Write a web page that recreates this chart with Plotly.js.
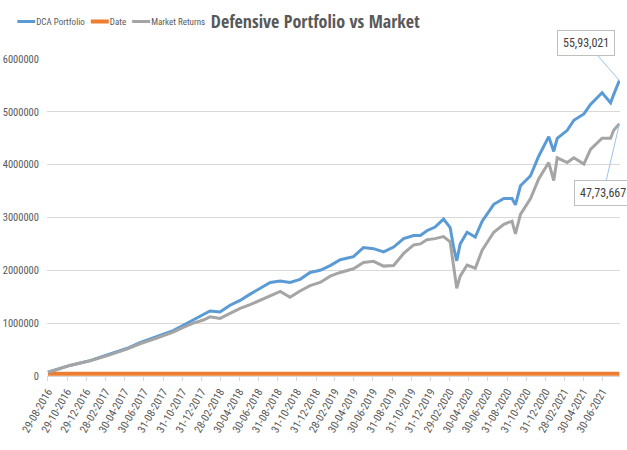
<!DOCTYPE html>
<html>
<head>
<meta charset="utf-8">
<script src="https://cdn.plot.ly/plotly-3.0.1.min.js"></script>
<style>html,body{margin:0;padding:0;background:#fff;}#chart{width:627px;height:450px;}</style>
</head>
<body>
<div id="chart"></div>
<script>
var dates = ['2016-08-29','2016-11-07','2017-01-10','2017-03-04','2017-05-07','2017-06-18','2017-08-11','2017-10-02','2017-11-03','2017-12-05','2018-01-06','2018-01-27','2018-02-28','2018-04-01','2018-05-03','2018-06-04','2018-08-07','2018-09-08','2018-10-09','2018-11-10','2018-12-12','2019-01-13','2019-02-14','2019-03-18','2019-04-29','2019-05-31','2019-07-02','2019-08-03','2019-09-04','2019-10-06','2019-11-07','2019-11-28','2019-12-19','2020-01-14','2020-02-10','2020-03-02','2020-03-13','2020-03-23','2020-04-03','2020-04-25','2020-05-21','2020-06-12','2020-07-19','2020-08-20','2020-09-15','2020-09-26','2020-10-12','2020-11-13','2020-12-09','2021-01-10','2021-01-26','2021-02-06','2021-03-10','2021-03-31','2021-05-02','2021-05-23','2021-06-29','2021-07-26','2021-08-05','2021-08-23'];
var dcaPortfolio = [70000,200000,290000,390000,520000,630000,740000,860000,960000,1060000,1150000,1230000,1210000,1340000,1430000,1550000,1770000,1800000,1770000,1830000,1960000,2000000,2090000,2200000,2260000,2430000,2410000,2350000,2440000,2600000,2660000,2660000,2750000,2820000,2970000,2810000,2440000,2180000,2500000,2720000,2630000,2930000,3250000,3360000,3360000,3240000,3600000,3790000,4160000,4530000,4250000,4500000,4650000,4840000,4960000,5140000,5360000,5170000,5330000,5593021];
var marketReturns = [70000,200000,290000,380000,510000,610000,720000,830000,920000,1000000,1060000,1120000,1090000,1180000,1280000,1350000,1520000,1600000,1490000,1610000,1710000,1770000,1890000,1960000,2030000,2150000,2170000,2080000,2090000,2320000,2480000,2500000,2580000,2600000,2640000,2540000,2080000,1660000,1890000,2100000,2040000,2380000,2720000,2870000,2930000,2690000,3060000,3360000,3730000,4040000,3700000,4130000,4040000,4130000,4010000,4290000,4500000,4500000,4650000,4773667];
// "Date" series (Excel date serials, plotted as values)
var dateSeriesX = ['2016-08-29','2021-08-23'];
var dateSeriesY = [42611,44431];
// Category tick labels
var tickDates = ['2016-08-29','2016-10-29','2016-12-29','2017-02-28','2017-04-30','2017-06-30','2017-08-31','2017-10-31','2017-12-31','2018-02-28','2018-04-30','2018-06-30','2018-08-31','2018-10-31','2018-12-31','2019-02-28','2019-04-30','2019-06-30','2019-08-31','2019-10-31','2019-12-31','2020-02-29','2020-04-30','2020-06-30','2020-08-31','2020-10-31','2020-12-31','2021-02-28','2021-04-30','2021-06-30'];
var yTicks = [0,1000000,2000000,3000000,4000000,5000000,6000000];
var lastIdx = dates.length - 1;

var narrow = '"Roboto Condensed", "Open Sans", Arial, sans-serif';
var titleFont = '"Open Sans Condensed", "Roboto Condensed", sans-serif';

var traces = [
  {x: dates, y: dcaPortfolio, name: 'DCA Portfolio', type: 'scatter', mode: 'lines',
   line: {color: '#5B9BD5', width: 3}},
  {x: dateSeriesX, y: dateSeriesY, name: 'Date', type: 'scatter', mode: 'lines',
   line: {color: '#ED7D31', width: 4}},
  {x: dates, y: marketReturns, name: 'Market Returns', type: 'scatter', mode: 'lines',
   line: {color: '#A5A5A5', width: 3}}
];

function fmtIndian(v){
  var s = String(Math.round(v));
  var last3 = s.slice(-3), rest = s.slice(0, -3);
  if (rest) { rest = rest.replace(/\B(?=(\d{2})+(?!\d))/g, ','); return rest + ',' + last3; }
  return last3;
}

var layout = {
  width: 627, height: 450,
  margin: {l: 47, r: 7, t: 51, b: 74},
  paper_bgcolor: '#ffffff', plot_bgcolor: '#ffffff',
  font: {family: narrow, color: '#595959', size: 10},
  title: {text: 'Defensive Portfolio vs Market', x: 0.503, xanchor: 'center', y: 0.951, yanchor: 'middle',
          font: {family: titleFont, size: 18, weight: 700, color: '#595959'}},
  showlegend: true,
  legend: {orientation: 'h', x: -0.052, xanchor: 'left', y: 1.118, yanchor: 'middle',
           font: {family: narrow, size: 9, color: '#595959'}, itemwidth: 30, tracegroupgap: 0, bgcolor: 'rgba(0,0,0,0)'},
  xaxis: {type: 'date', range: ['2016-08-26','2021-08-25'], tickvals: tickDates, tickformat: '%d-%m-%Y',
          tickangle: -60, showgrid: false, zeroline: false, showline: true, linecolor: '#D9D9D9',
          ticks: 'outside', ticklen: 4, tickcolor: '#D9D9D9',
          tickfont: {family: narrow, size: 11, color: '#595959'}},
  yaxis: {range: [0, 6000000], tickvals: yTicks, tickformat: 'd', showgrid: true, gridcolor: '#D9D9D9',
          zeroline: false, showline: false, ticks: '', ticklabelstandoff: 7,
          tickfont: {family: narrow, size: 10.5, color: '#595959'}},
  annotations: [
    {x: dates[lastIdx], y: dcaPortfolio[lastIdx], xref: 'x', yref: 'y', text: fmtIndian(dcaPortfolio[lastIdx]),
     showarrow: true, arrowhead: 0, arrowwidth: 1, arrowcolor: '#9DC3E6', ax: -33, ay: -38,
     bgcolor: '#ffffff', bordercolor: '#BFBFBF', borderwidth: 1, borderpad: 5,
     font: {family: narrow, size: 12, color: '#404040'}},
    {x: dates[lastIdx], y: marketReturns[lastIdx], xref: 'x', yref: 'y', text: fmtIndian(marketReturns[lastIdx]),
     showarrow: true, arrowhead: 0, arrowwidth: 1, arrowcolor: '#9DC3E6', ax: -16, ay: 69,
     bgcolor: '#ffffff', bordercolor: '#BFBFBF', borderwidth: 1, borderpad: 5,
     font: {family: narrow, size: 12, color: '#404040'}}
  ]
};

Plotly.newPlot('chart', traces, layout, {displayModeBar: false, staticPlot: true}).then(function(gd){
  // Compact the legend like the Excel original: short line samples, tight spacing
  try {
    var items = gd.querySelectorAll('.legend .traces');
    var xpos = null;
    items.forEach(function(g){
      var m = /translate\(([-\d.e]+)[ ,]+([-\d.e]+)\)/.exec(g.getAttribute('transform') || '');
      var gx = m ? parseFloat(m[1]) : 0, gy = m ? parseFloat(m[2]) : 0;
      if (xpos === null) xpos = gx;
      g.querySelectorAll('.legendlines path').forEach(function(p){ p.setAttribute('d', 'M0,0h18'); });
      var txt = g.querySelector('text.legendtext');
      txt.setAttribute('x', 19);
      var w = txt.getComputedTextLength();
      g.setAttribute('transform', 'translate(' + xpos + ',' + gy + ')');
      xpos += 19 + w + 6;
    });
  } catch (e) {}
});
</script>
</body>
</html>
